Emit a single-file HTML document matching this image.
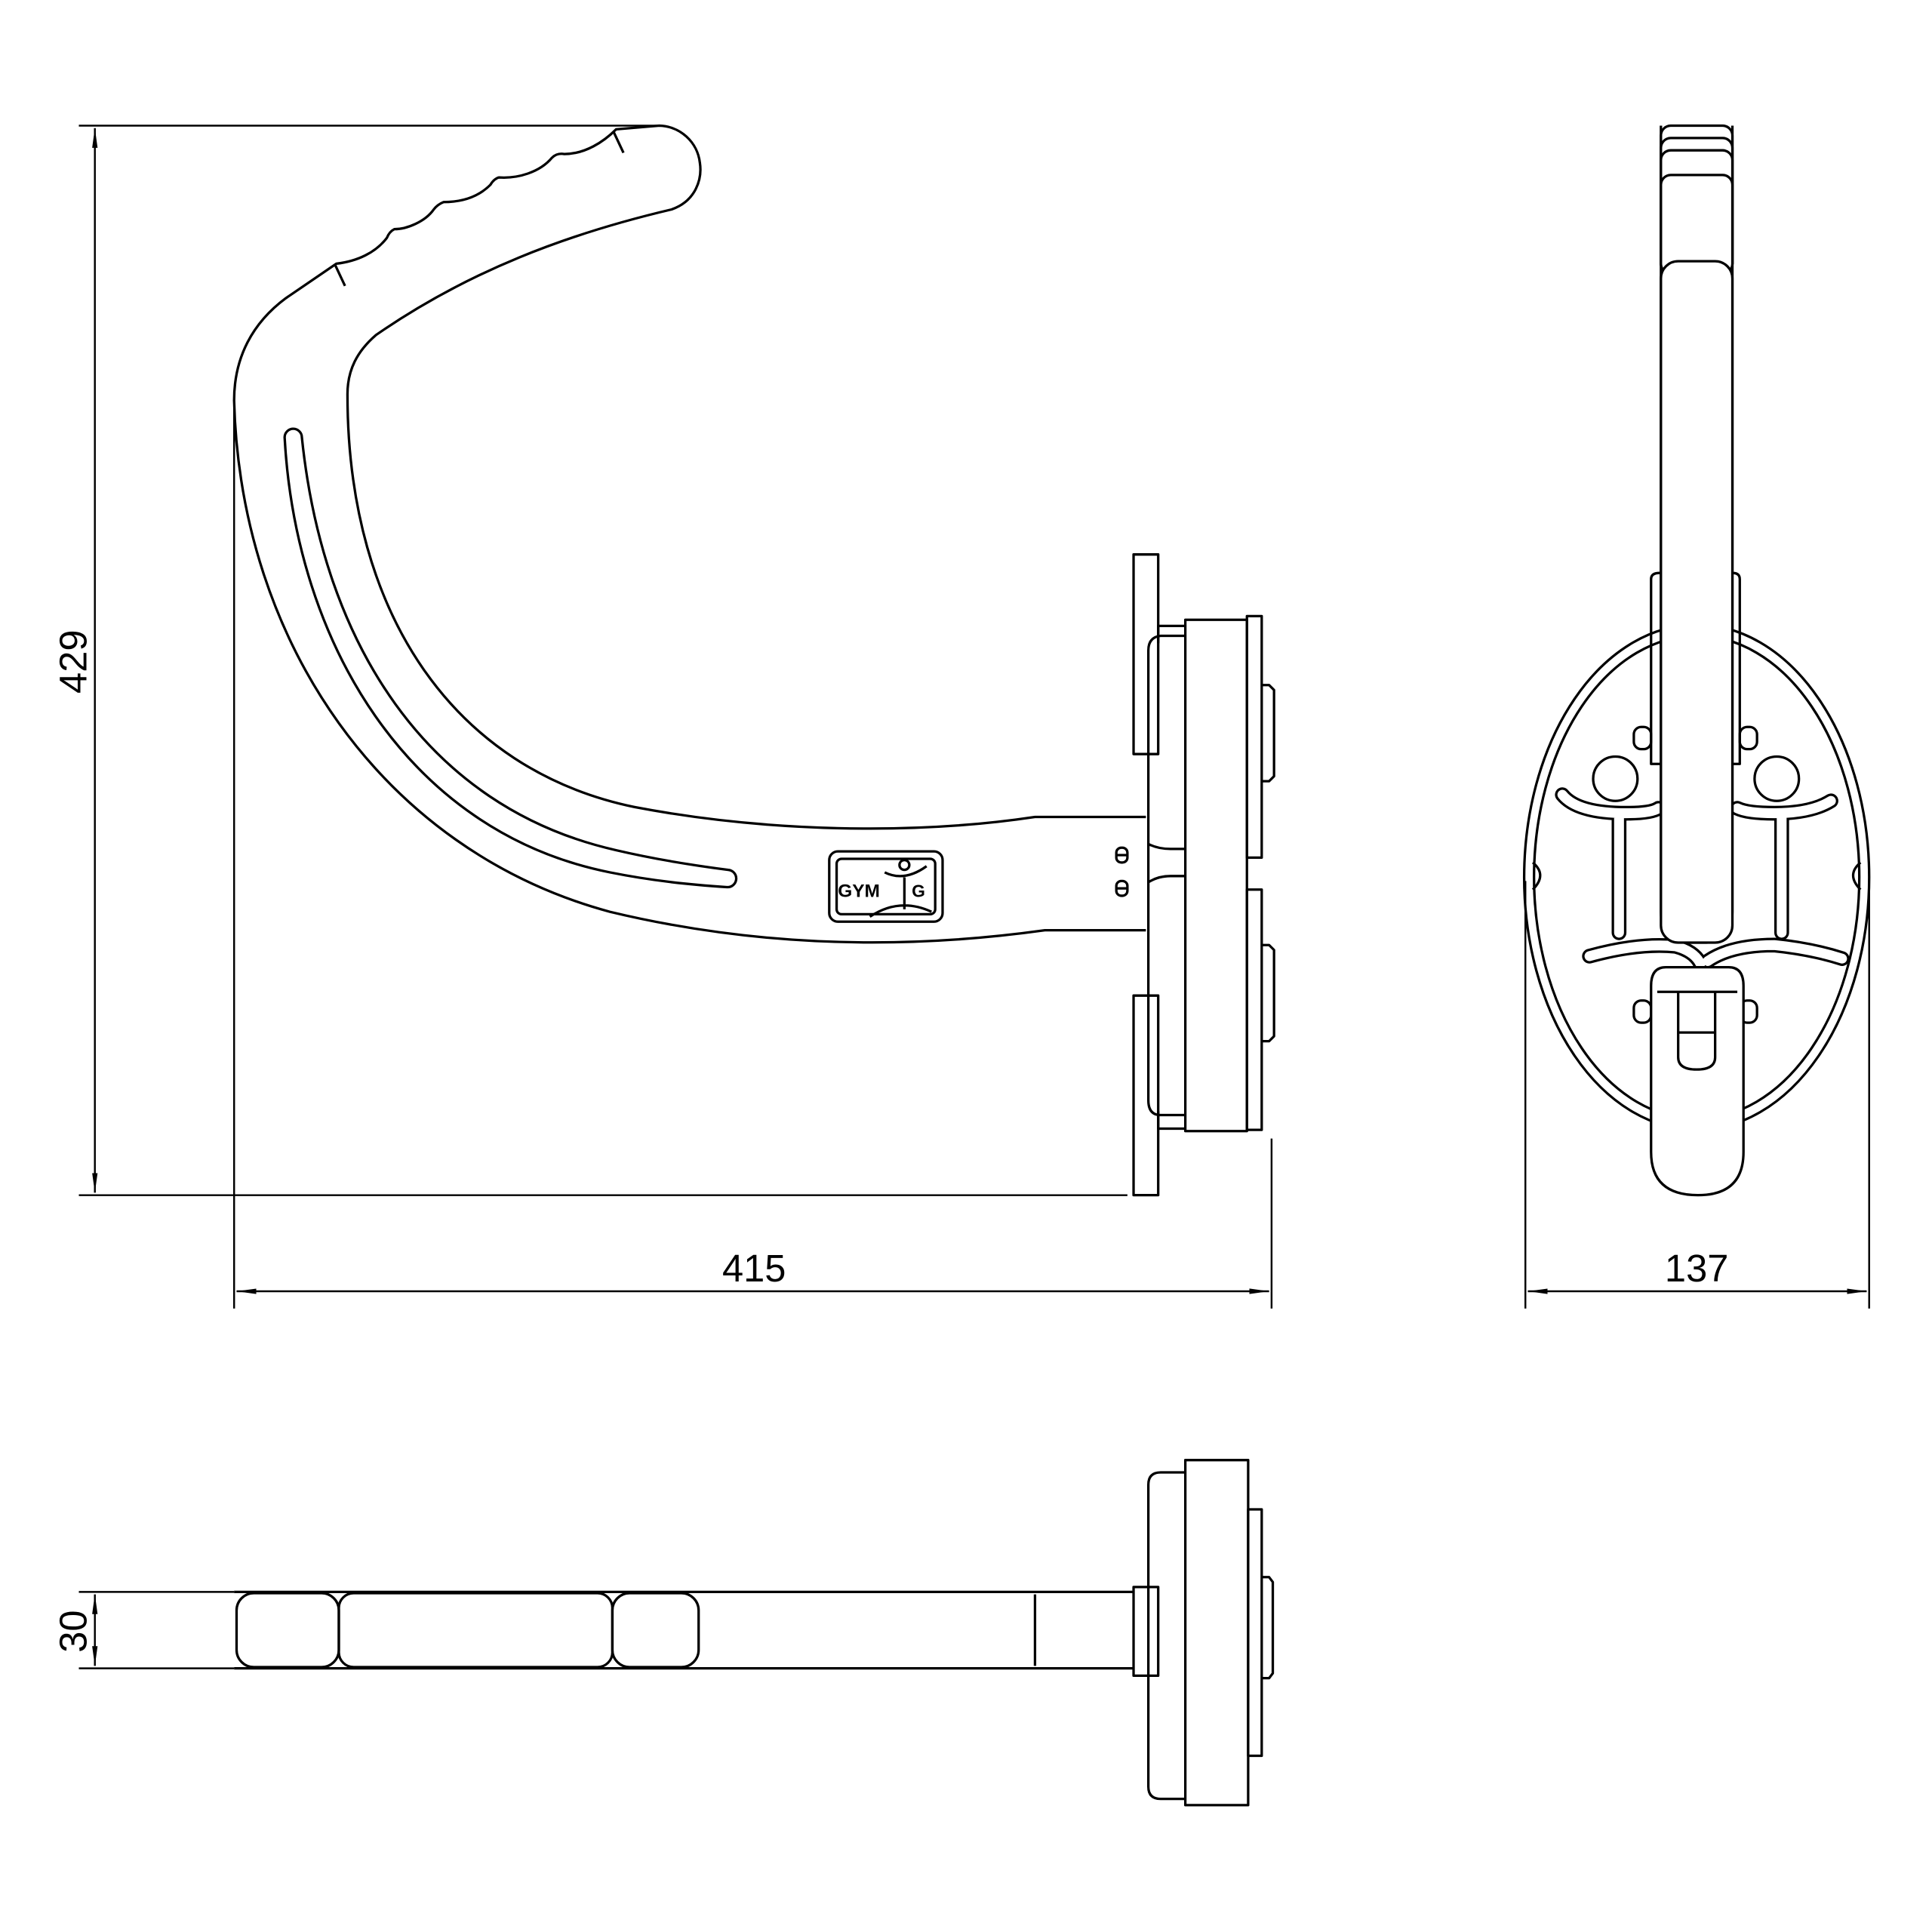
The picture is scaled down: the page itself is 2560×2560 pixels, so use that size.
<!DOCTYPE html>
<html><head><style>html,body{margin:0;padding:0;background:#fff}svg{display:block}</style></head><body>
<svg width="2560" height="2560" viewBox="0 0 1568 1568" xmlns="http://www.w3.org/2000/svg">
<defs><marker id="a" viewBox="0 0 16 6" refX="16" refY="3" markerWidth="16" markerHeight="6" markerUnits="userSpaceOnUse" orient="auto-start-reverse"><path d="M0,0.8 L16,3 L0,5.2 Z" fill="#000"/></marker></defs>
<g fill="none" stroke="#000" stroke-width="2" stroke-linejoin="round">
<!-- hook -->
<path d="M930,663 L840,663 C740,678 620,675 515,655 C370,625 282,500 282,320 C282,300 290,285 305,272 C380,220 460,190 545,170 C565,163 570,145 568,132 A34,34 0 0 0 535,102 L500,105 C490,115 475,125 458,125 Q452,124 448,128 C438,140 420,145 405,144 Q401,145 398,150 C388,160 375,164 360,164 Q355,166 352,170 C345,180 330,186 320,186 Q316,188 314,193 C305,205 290,212 273,214 L232,242 C205,262 190,290 190,325 C195,520 310,690 495,740 C620,770 740,770 848,755 L930,755"/>
<line x1="498" y1="107" x2="506" y2="124"/><line x1="272" y1="215" x2="280" y2="232"/>
<path d="M231,355 C240,520 330,675 495,708 C530,715 560,718 590,720 A7,7 0 0 0 591,706 C560,702 530,697 500,690 C345,655 262,520 245,355 A7,7 0 0 0 231,355Z"/>
<rect x="673" y="691" width="92" height="57" rx="7"/>
<rect x="679" y="697" width="80" height="45" rx="4"/>
<text x="680" y="728" font-family="Liberation Sans, sans-serif" font-size="15" font-weight="bold" fill="#000" stroke="none">GYM</text>
<text x="740" y="728" font-family="Liberation Sans, sans-serif" font-size="14" font-weight="bold" fill="#000" stroke="none">G</text>
<circle cx="734" cy="702" r="4"/><path d="M718,708 Q734,716 752,703 M734,712 L734,738 M706,744 Q730,728 756,740"/>
<rect x="906" y="688" width="9" height="12" rx="4"/><rect x="906" y="715" width="9" height="12" rx="4"/>
<line x1="906" y1="694" x2="915" y2="694"/><line x1="906" y1="721" x2="915" y2="721"/>
<!-- mount side view -->
<rect x="920" y="450" width="20" height="162"/>
<rect x="920" y="808" width="20" height="162"/>
<path d="M940,522 L940,508 L962,508 M940,902 L940,916 L962,916"/>
<path d="M962,516 L942,516 Q932,517 932,528 L932,893 Q932,905 942,905 L962,905"/>
<path d="M932,685 Q940,689 950,689 L962,689 M932,716 Q940,711 950,711 L962,711"/>
<rect x="962" y="503" width="50" height="415"/>
<rect x="1012" y="500" width="12" height="196"/>
<rect x="1012" y="722" width="12" height="195"/>
<path d="M1024,556 L1030,556 L1034,560 L1034,630 L1030,634 L1024,634 M1024,767 L1030,767 L1034,771 L1034,841 L1030,845 L1024,845"/>
<!-- dims -->
<g stroke-width="1.5">
<line x1="64" y1="102" x2="535" y2="102"/><line x1="64" y1="970" x2="915" y2="970"/>
<line x1="77" y1="104" x2="77" y2="968" marker-start="url(#a)" marker-end="url(#a)"/>
<line x1="190" y1="325" x2="190" y2="1062"/><line x1="1032" y1="924" x2="1032" y2="1062"/>
<line x1="192" y1="1048" x2="1030" y2="1048" marker-start="url(#a)" marker-end="url(#a)"/>
<line x1="1238" y1="715" x2="1238" y2="1062"/><line x1="1517" y1="700" x2="1517" y2="1062"/>
<line x1="1240" y1="1048" x2="1515" y2="1048" marker-start="url(#a)" marker-end="url(#a)"/>
<line x1="64" y1="1292" x2="190" y2="1292"/><line x1="64" y1="1354" x2="190" y2="1354"/>
<line x1="77" y1="1294" x2="77" y2="1352" marker-start="url(#a)" marker-end="url(#a)"/>
</g>
<!-- front view -->
<ellipse cx="1377" cy="712" rx="140" ry="205"/>
<ellipse cx="1377" cy="712" rx="132" ry="196"/>
<circle cx="1311" cy="632" r="18"/><circle cx="1442" cy="632" r="18"/>
<g stroke-width="12" stroke-linecap="round">
<path d="M1268,645 Q1280,660 1320,660 Q1340,660 1346,656 M1314,662 L1314,757 M1446,662 L1446,757"/>
<path d="M1486,650 Q1470,660 1440,660 Q1418,660 1410,656"/>
<path d="M1290,776 Q1330,765 1360,768 Q1375,772 1380,782 M1386,780 Q1405,767 1440,767 Q1470,770 1495,778"/>
</g>
<g stroke="#fff" stroke-width="8" stroke-linecap="round">
<path d="M1268,645 Q1280,660 1320,660 Q1340,660 1346,656 M1314,662 L1314,757 M1446,662 L1446,757"/>
<path d="M1486,650 Q1470,660 1440,660 Q1418,660 1410,656"/>
<path d="M1290,776 Q1330,765 1360,768 Q1375,772 1380,782 M1386,780 Q1405,767 1440,767 Q1470,770 1495,778"/>
</g>
<path d="M1340,470 Q1340,465 1347,465 M1412,470 Q1412,465 1406,465 M1340,470 L1340,620 L1348,620 M1412,470 L1412,620 L1406,620"/>
<rect x="1326" y="590" width="14" height="18" rx="6"/><rect x="1412" y="590" width="14" height="18" rx="6"/>
<rect x="1326" y="812" width="14" height="18" rx="6"/><rect x="1412" y="812" width="14" height="18" rx="6"/>
<path d="M1348,102 L1348,740 Q1348,765 1370,765 L1385,765 Q1406,765 1406,740 L1406,102"/>
<rect x="1348" y="102" width="58" height="120" rx="8" fill="#fff"/>
<rect x="1348" y="112" width="58" height="110" rx="8" fill="#fff"/>
<rect x="1348" y="122" width="58" height="100" rx="8" fill="#fff"/>
<rect x="1348" y="142" width="58" height="80" rx="8" fill="#fff"/>
<rect x="1348" y="212" width="58" height="553" rx="14" fill="#fff"/>
<path d="M1340,800 Q1340,785 1352,785 L1403,785 Q1415,785 1415,800 L1415,935 Q1415,970 1378,970 Q1340,970 1340,935 Z" fill="#fff"/>
<line x1="1345" y1="805" x2="1410" y2="805"/>
<path d="M1362,805 L1362,858 Q1362,868 1377,868 Q1392,868 1392,858 L1392,805 M1362,838 L1392,838"/>
<path d="M1244,700 Q1256,710 1244,722 M1510,700 Q1498,710 1510,722"/>
<!-- bottom view -->
<line x1="190" y1="1292" x2="920" y2="1292"/><line x1="190" y1="1354" x2="920" y2="1354"/>
<rect x="192" y="1293" width="83" height="60" rx="14"/>
<rect x="275" y="1293" width="222" height="60" rx="12"/>
<rect x="497" y="1293" width="70" height="60" rx="14"/>
<line x1="840" y1="1294" x2="840" y2="1352"/>
<rect x="920" y="1288" width="20" height="72"/>
<path d="M962,1195 L942,1195 Q932,1195 932,1205 L932,1450 Q932,1460 942,1460 L962,1460"/>
<rect x="962" y="1185" width="51" height="280"/>
<rect x="1013" y="1225" width="11" height="200"/>
<path d="M1024,1280 L1030,1280 L1033,1284 L1033,1358 L1030,1362 L1024,1362"/>
</g>
<g font-family="Liberation Sans, sans-serif" font-size="31" fill="#000">
<text x="612" y="1040" text-anchor="middle">415</text>
<text x="1377" y="1040" text-anchor="middle">137</text>
<text transform="translate(70,537) rotate(-90)" text-anchor="middle">429</text>
<text transform="translate(70,1324) rotate(-90)" text-anchor="middle">30</text>
</g>
</svg>
</body></html>
